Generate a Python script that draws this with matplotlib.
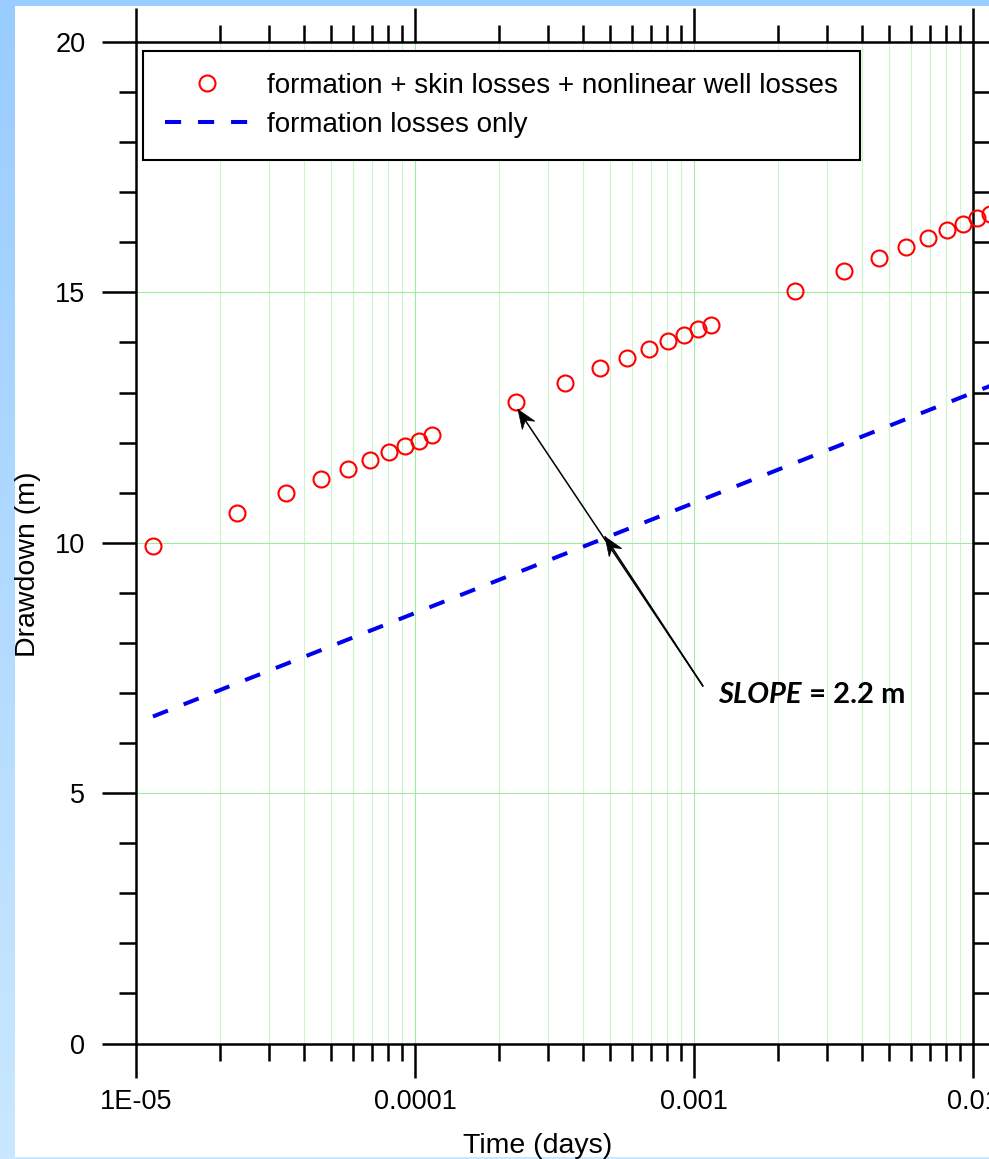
#!/usr/bin/env python3
# -*- coding: utf-8 -*-
"""
Semi-log drawdown plot of a three-step pumping test: observed drawdown
(formation + skin + nonlinear well losses) against the straight
Cooper-Jacob line for formation losses only.
"""

import numpy as np
import matplotlib
matplotlib.use("Agg")
import matplotlib.pyplot as plt
from matplotlib.patches import Rectangle, Polygon
from matplotlib.transforms import IdentityTransform
from matplotlib.colors import LinearSegmentedColormap

# observed drawdown, one list per pumping step
STEP1_T = [1.15e-5, 2.3e-5, 3.45e-5, 4.6e-5, 5.75e-5, 6.9e-5, 8.05e-5,
           9.2e-5, 1.035e-4, 1.15e-4]
STEP1_S = [9.93, 10.59, 10.99, 11.27, 11.48, 11.66, 11.81, 11.94, 12.04, 12.15]

STEP2_T = [2.3e-4, 3.45e-4, 4.6e-4, 5.75e-4, 6.9e-4, 8.05e-4, 9.2e-4,
           1.035e-3, 1.15e-3]
STEP2_S = [12.81, 13.20, 13.48, 13.69, 13.87, 14.02, 14.15, 14.26, 14.35]

STEP3_T = [2.3e-3, 3.45e-3, 4.6e-3, 5.75e-3, 6.9e-3, 8.05e-3, 9.2e-3,
           1.035e-2, 1.15e-2]
STEP3_S = [15.03, 15.42, 15.69, 15.91, 16.09, 16.24, 16.37, 16.48, 16.57]

# formation-only line (straight on semi-log axes, 2.2 m per log cycle)
LINE_T = [1.15e-5, 1.15e-2]
LINE_S = [6.53, 13.13]

XTICKS = [1e-5, 1e-4, 1e-3, 1e-2]
XTICK_LABELS = ["1E-05", "0.0001", "0.001", "0.01"]
YTICKS = [0, 5, 10, 15, 20]

LEGEND_LABELS = ["formation + skin losses + nonlinear well losses",
                 "formation losses only"]
SLOPE_VALUE = 2.2

# arrow tips (point on step 2, point on the line) and common tail
ARROW_TIPS = [(2.34e-4, 12.66), (4.8e-4, 10.12)]
ARROW_TAIL = (1.076e-3, 7.14)

W, H = 989, 1159
plt.rcParams["font.family"] = ["Liberation Sans", "DejaVu Sans"]


def px_box(x0, y0, x1, y1):
    """pixel box (top-left origin) -> figure fraction [l, b, w, h]"""
    return [x0 / W, 1 - y1 / H, (x1 - x0) / W, (y1 - y0) / H]


def background(fig):
    bg = fig.add_axes([0, 0, 1, 1], zorder=-10)
    bg.set_axis_off()
    cmap = LinearSegmentedColormap.from_list("frame", ["#99ccff", "#c9e8ff"])
    grad = np.linspace(0, 1, 256).reshape(-1, 1)
    bg.imshow(grad, cmap=cmap, aspect="auto", extent=[0, 1, 0, 1],
              origin="upper")
    bg.set_xlim(0, 1)
    bg.set_ylim(0, 1)
    l, b, w, h = px_box(15, 6, W + 5, 1157)
    bg.add_patch(Rectangle((l, b), w, h, color="white", lw=0))


def stealth_head(ax, tip, tail, length=19, half_w=7.5, notch=6):
    """barbed arrow head drawn in display pixels at the tip"""
    p = ax.transData.transform(tip)
    q = ax.transData.transform(tail)
    u = (p - q) / np.hypot(*(p - q))
    n = np.array([-u[1], u[0]])
    back = p - u * length
    pts = [p, back + n * half_w, p - u * (length - notch), back - n * half_w]
    ax.add_patch(Polygon(pts, closed=True, transform=IdentityTransform(),
                         fc="black", ec="black", lw=0.5, zorder=5))


def main():
    fig = plt.figure(figsize=(W / 100, H / 100), dpi=100)
    background(fig)

    ax = fig.add_axes(px_box(136, 42, 973, 1043.5))
    ax.set_facecolor("white")
    ax.set_xscale("log")
    ax.set_xlim(1e-5, 1e-2)
    ax.set_ylim(0, 20)

    ax.grid(which="major", axis="both", color="#9cee9c", lw=0.8, zorder=0)
    ax.grid(which="minor", axis="x", color="#cdf5cd", lw=0.8, zorder=0)
    ax.set_axisbelow(True)

    mk = dict(ls="none", marker="o", ms=11.5, mfc="none", mec="#ff0000",
              mew=1.5, clip_on=False, zorder=4)
    ax.plot(STEP1_T, STEP1_S, label=LEGEND_LABELS[0], **mk)
    ax.plot(STEP2_T, STEP2_S, **mk)
    ax.plot(STEP3_T, STEP3_S, **mk)
    ax.plot(LINE_T, LINE_S, color="#0000ee", lw=2.9, dashes=(4, 4.2),
            clip_on=False, zorder=3, label=LEGEND_LABELS[1])

    # ticks
    ax.set_xticks(XTICKS)
    ax.set_xticklabels(XTICK_LABELS)
    ax.xaxis.set_minor_locator(matplotlib.ticker.LogLocator(
        base=10, subs=np.arange(2, 10), numticks=20))
    ax.xaxis.set_minor_formatter(matplotlib.ticker.NullFormatter())
    ax.set_yticks(YTICKS)
    ax.yaxis.set_minor_locator(matplotlib.ticker.MultipleLocator(1))
    ax.tick_params(which="both", direction="out", top=True, right=True,
                   width=1.8, colors="black", labelsize=19.5)
    ax.tick_params(which="major", length=24.5)
    ax.tick_params(which="minor", length=12.5)
    ax.tick_params(axis="x", pad=8.5)
    ax.tick_params(axis="y", pad=12)
    for sp in ax.spines.values():
        sp.set_linewidth(1.8)

    ax.set_xlabel("Time (days)", fontsize=20.5, va="baseline")
    ax.xaxis.set_label_coords((538 - 136) / 837, (1043.5 - 1153) / 1001.5)
    ax.set_ylabel("Drawdown (m)", fontsize=20.5, va="center")
    ax.yaxis.set_label_coords((28 - 136) / 837, (1043.5 - 564) / 1001.5)

    leg = ax.legend(loc="upper left", fontsize=20,
                    bbox_to_anchor=((143 - 136) / 837, (1043.5 - 50.7) / 1001.5),
                    borderaxespad=0, borderpad=0.8, handlelength=3.0,
                    handletextpad=0.66, labelspacing=0.47, numpoints=1,
                    fancybox=False, framealpha=1, edgecolor="black")
    leg.get_frame().set_linewidth(1.5)
    leg.set_zorder(6)

    # slope annotation: two leaders from the label
    for tip in ARROW_TIPS:
        ax.annotate("", xy=tip, xytext=ARROW_TAIL,
                    arrowprops=dict(arrowstyle="-", color="black", lw=1.1,
                                    shrinkA=0, shrinkB=0), zorder=5)
    t1 = ax.text(718 / W, 1 - 703 / H, "SLOPE", transform=fig.transFigure,
                 family="Lato", weight="bold", style="italic", fontsize=21,
                 ha="left", va="baseline")
    fig.canvas.draw()
    for tip in ARROW_TIPS:
        stealth_head(ax, tip, ARROW_TAIL)
    bb = t1.get_window_extent()
    ax.text(bb.x1 / W, 1 - 703 / H, f" = {SLOPE_VALUE} m",
            transform=fig.transFigure, family="Lato", weight="bold",
            fontsize=21, ha="left", va="baseline")

    fig.savefig("out.png", dpi=100)


if __name__ == "__main__":
    main()
